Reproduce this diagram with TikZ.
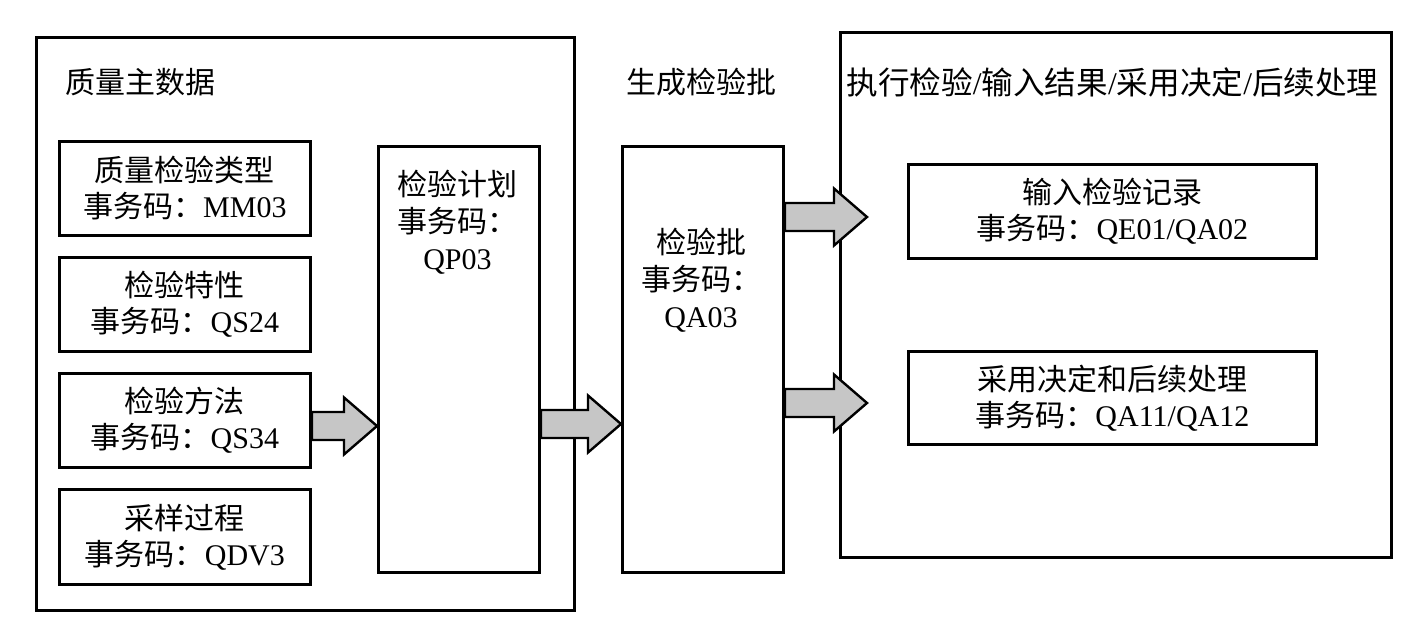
\documentclass[tikz,border=0pt]{standalone}
\usepackage{fontspec}
\setmainfont{Liberation Serif}
\newfontfamily\cjk{Noto Sans CJK SC}
\usetikzlibrary{calc}
\tikzset{
  box/.style={draw, line width=1.4pt, rectangle, anchor=north west, inner sep=0pt, align=center},
  txt/.style={inner sep=0pt, align=center, font=\fontsize{15}{18}\selectfont},
  plantxt/.style={inner sep=0pt, align=center, font=\fontsize{15}{18.5}\selectfont},
  ttl/.style={inner sep=0pt, font=\fontsize{15}{18}\selectfont\cjk},
  fatarrow/.style={draw, line width=1.2pt, fill=gray!45, line join=miter}
}
\newcommand\fatarr[2]{%
  \draw[fatarrow] let \p1=(#1), \p2=(#2) in
    (\x1,\y1+7pt) -- (\x2-16.5pt,\y1+7pt) -- (\x2-16.5pt,\y1+14.25pt) -- (\x2,\y1)
    -- (\x2-16.5pt,\y1-14.25pt) -- (\x2-16.5pt,\y1-7pt) -- (\x1,\y1-7pt) -- cycle;}
\begin{document}
\begin{tikzpicture}[x=0.5pt,y=-0.5pt]
\useasboundingbox (0,0) rectangle (1421,637);
% outer frames
\node[box, minimum width=269pt, minimum height=286.5pt] (left) at (35,36) {};
\node[box, minimum width=275.5pt, minimum height=262.5pt] (right) at (839,31) {};
% titles
\node[ttl, anchor=west] (t1) at (65,82) {质量主数据};
\node[ttl] (t2) at (701,82) {生成检验批};
\node[inner sep=0pt, font=\fontsize{15.8}{19}\selectfont] (t3) at (1112.5,82) {{\cjk 执行检验}/{\cjk 输入结果}/{\cjk 采用决定}/{\cjk 后续处理}};
% master data boxes
\node[box, minimum width=125.5pt, minimum height=47pt] (b1) at (58,140) {};
\node[txt] (b1t) at (b1.center) {{\cjk 质量检验类型}\\{\cjk 事务码：}MM03};
\node[box, minimum width=125.5pt, minimum height=47pt] (b2) at (58,256) {};
\node[txt] (b2t) at (b2.center) {{\cjk 检验特性}\\{\cjk 事务码：}QS24};
\node[box, minimum width=125.5pt, minimum height=47pt] (b3) at (58,372) {};
\node[txt] (b3t) at (b3.center) {{\cjk 检验方法}\\{\cjk 事务码：}QS34};
\node[box, minimum width=125.5pt, minimum height=47.5pt] (b4) at (58,488) {};
\node[txt] (b4t) at (b4.center) {{\cjk 采样过程}\\{\cjk 事务码：}QDV3};
% plan and lot
\node[box, minimum width=80.5pt, minimum height=213pt] (plan) at (377,145) {};
\node[plantxt] (plant) at (457.5,222) {{\cjk 检验计划}\\{\cjk 事务码：}\\QP03};
\node[box, minimum width=80.5pt, minimum height=213pt] (lot) at (621,145) {};
\node[plantxt] (lott) at (701,280) {{\cjk 检验批}\\{\cjk 事务码：}\\QA03};
% right boxes
\node[box, minimum width=204pt, minimum height=47pt] (r1) at (907,163) {};
\node[txt] (r1t) at (r1.center) {{\cjk 输入检验记录}\\{\cjk 事务码：}QE01/QA02};
\node[box, minimum width=204pt, minimum height=46.5pt] (r2) at (907,350) {};
\node[txt] (r2t) at (r2.center) {{\cjk 采用决定和后续处理}\\{\cjk 事务码：}QA11/QA12};
% arrows
\coordinate (ya) at (0,426);
\coordinate (yb) at (0,424);
\coordinate (yc) at (0,217);
\coordinate (yd) at (0,403);
\coordinate (a1s) at (b3.east |- ya);
\coordinate (a1e) at (plan.west |- ya);
\coordinate (a2s) at (plan.east |- yb);
\coordinate (a2e) at (lot.west |- yb);
\coordinate (a3s) at (lot.east |- yc);
\coordinate (a3e) at (867,217);
\coordinate (a4s) at (lot.east |- yd);
\coordinate (a4e) at (867,403);
\fatarr{a1s}{a1e}
\fatarr{a2s}{a2e}
\fatarr{a3s}{a3e}
\fatarr{a4s}{a4e}
\end{tikzpicture}
\end{document}
